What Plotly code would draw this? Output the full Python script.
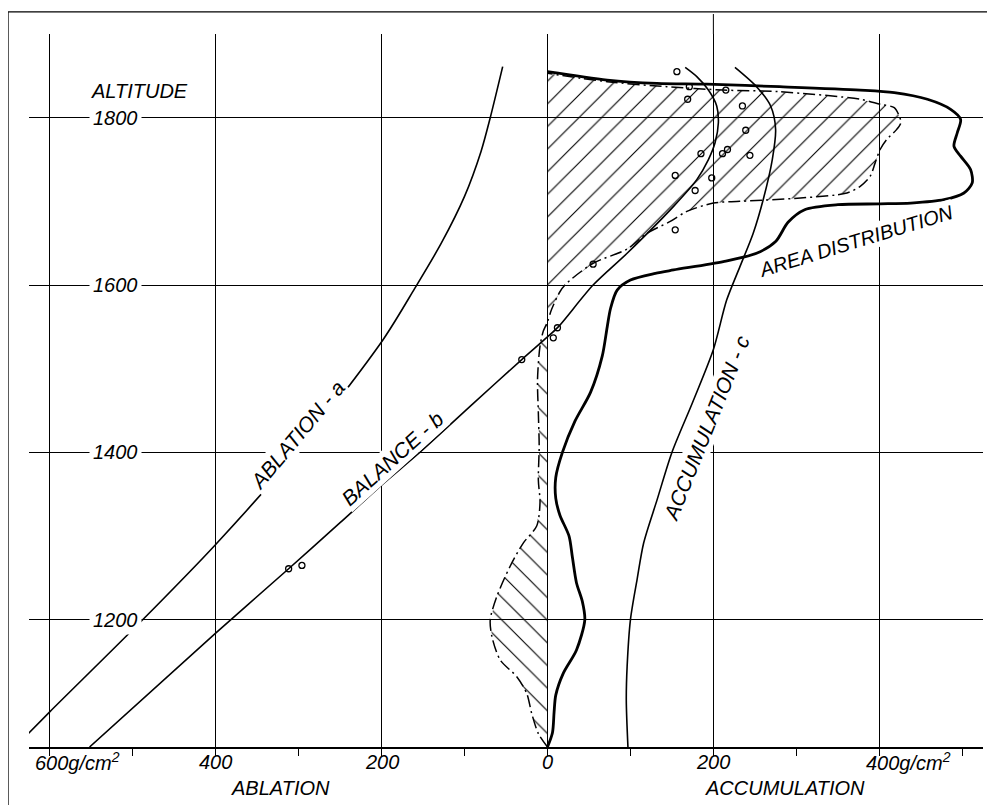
import plotly.graph_objects as go

# ---------------- data ----------------
# Curve a : ablation (g/cm^2, negative = ablation side) vs altitude
abl_x = [-630, -600, -488, -400, -302, -198, -160, -128, -100, -80, -69, -54]
abl_y = [1060, 1090, 1200, 1290, 1400, 1535, 1596, 1650, 1706, 1760, 1800, 1861]

# Curve b : balance
bal_x = [-552, -400, -312, -250, -200, -154, -90, -31, 0, 13, 55, 96, 152, 180, 194, 202, 206, 204, 194, 180, 166]
bal_y = [1048, 1184, 1261, 1316, 1361, 1400, 1458, 1511, 1538, 1550, 1600, 1638, 1694, 1726, 1750, 1770, 1794, 1814, 1833, 1849, 1860]

# Curve c : accumulation
acc_x = [97, 95, 96, 100, 108, 116, 132, 150, 175, 200, 216, 232, 248, 260, 271, 275, 269, 252, 226]
acc_y = [1048, 1104, 1144, 1200, 1248, 1292, 1343, 1400, 1460, 1523, 1582, 1622, 1662, 1702, 1750, 1786, 1814, 1837, 1860]

# Area distribution (thick curve)
area_x = [0, 6, 8, 10, 19, 35, 45, 42, 35, 30, 26, 15, 10, 10, 18, 33, 52, 66, 72, 76, 84, 100, 130, 152, 212,
          252, 275, 290, 310, 350, 401, 438, 478, 502, 512, 510, 498, 490, 494, 498, 486, 458, 418, 377, 280,
          192, 132, 72, 0]
area_y = [1048, 1065, 1090, 1110, 1136, 1164, 1200, 1222, 1244, 1275, 1300, 1325, 1345, 1370, 1400, 1437, 1472,
          1515, 1550, 1572, 1594, 1606, 1614, 1618, 1628, 1638, 1652, 1675, 1690, 1696, 1697, 1698, 1702, 1710,
          1722, 1738, 1754, 1766, 1782, 1798, 1810, 1822, 1830, 1833, 1837, 1840, 1841, 1845, 1855]

# Balance x area (dash-dot) : negative part and positive part
net_neg_x = [0, -11, -19, -25, -37, -57, -67, -69, -61, -45, -29, -13, -9, -11, -10, -11, -12, -9, -5, 0]
net_neg_y = [1048, 1064, 1088, 1112, 1132, 1152, 1180, 1200, 1228, 1264, 1292, 1312, 1340, 1367, 1407, 1447,
             1487, 1527, 1545, 1556]
net_pos_x = [0, 5, 15, 23, 55, 96, 120, 148, 168, 200, 232, 305, 361, 377, 389, 395, 401, 409, 421, 426, 424,
             418, 401, 377, 280, 212, 144, 72, 0]
net_pos_y = [1556, 1571, 1592, 1602, 1626, 1643, 1662, 1676, 1688, 1698, 1700, 1704, 1710, 1718, 1730, 1746,
             1762, 1774, 1786, 1794, 1802, 1812, 1816, 1822, 1831, 1833, 1837, 1843, 1853]

# Measured stake points
pts_x = [156, 171, 169, 215, 235, 239, 185, 211, 217, 244, 154, 198, 178, 154, 55, 12, 7, -31, -312, -296]
pts_y = [1855, 1837, 1822, 1833, 1814, 1785, 1757, 1757, 1762, 1755, 1731, 1728, 1713, 1666, 1625, 1549,
         1537, 1511, 1261, 1265]

# Tick labels
y_tick_vals = [1200, 1400, 1600, 1800]
x_tick_vals = [-400, -200, 0, 200]
x_tick_text = ["400", "200", "0", "200"]

# ---------------- figure ----------------
FONT = "Liberation Sans"
fig = go.Figure()

# hatched fills
for xs, ys, shp in [(net_neg_x, net_neg_y, "\\"), (net_pos_x, net_pos_y, "/")]:
    fig.add_trace(go.Scatter(x=xs, y=ys, mode="none", fill="toself",
                             fillcolor="rgba(255,255,255,0)",
                             fillpattern=dict(shape=shp, fgcolor="black", fgopacity=1,
                                              bgcolor="rgba(255,255,255,0)",
                                              size=16, solidity=0.07),
                             hoverinfo="skip", showlegend=False))

# dash-dot curve
fig.add_trace(go.Scatter(x=net_neg_x + net_pos_x[1:], y=net_neg_y + net_pos_y[1:], mode="lines",
                         line=dict(color="black", width=1.5, dash="12px,4px,2px,4px", shape="spline",
                                   smoothing=0.8),
                         showlegend=False))

# main curves
for xs, ys, w in [(abl_x, abl_y, 1.6), (bal_x, bal_y, 1.6), (acc_x, acc_y, 1.6), (area_x, area_y, 2.8)]:
    fig.add_trace(go.Scatter(x=xs, y=ys, mode="lines",
                             line=dict(color="black", width=w, shape="spline", smoothing=0.8),
                             showlegend=False))

# measured points
fig.add_trace(go.Scatter(x=pts_x, y=pts_y, mode="markers",
                         marker=dict(symbol="circle-open", size=6, color="black", line=dict(width=1.3)),
                         showlegend=False))

ann = []
tfont = dict(family=FONT, size=20, color="black", style="italic")
for v in y_tick_vals:
    ann.append(dict(x=-553, y=v, xref="x", yref="y", text=str(v), showarrow=False, xanchor="left",
                    yanchor="middle", font=tfont, bgcolor="white", borderpad=3))
ann.append(dict(x=-553, y=1832, xref="x", yref="y", text="ALTITUDE", showarrow=False, xanchor="left",
                yanchor="middle", font=tfont))
bfont = dict(family=FONT, size=20, color="black", style="italic")
for v, t in zip(x_tick_vals, x_tick_text):
    ann.append(dict(x=v, y=-0.021, xref="x", yref="paper", text=t, showarrow=False, xanchor="center",
                    yanchor="middle", font=bfont))
ann.append(dict(x=-620, y=-0.021, xref="x", yref="paper", text="600g/cm<sup>2</sup>", showarrow=False,
                xanchor="left", yanchor="middle", font=bfont))
ann.append(dict(x=381, y=-0.021, xref="x", yref="paper", text="400g/cm<sup>2</sup>", showarrow=False,
                xanchor="left", yanchor="middle", font=bfont))
ann.append(dict(x=-322, y=-0.058, xref="x", yref="paper", text="ABLATION", showarrow=False,
                xanchor="center", yanchor="middle", font=bfont))
ann.append(dict(x=286, y=-0.058, xref="x", yref="paper", text="ACCUMULATION", showarrow=False,
                xanchor="center", yanchor="middle", font=bfont))

for t, x, y, a, s in [("ABLATION - a", -301, 1421, -50, 21), ("BALANCE - b", -187, 1393, -42, 21),
                      ("ACCUMULATION - c", 191, 1429, -68, 21), ("AREA DISTRIBUTION", 372, 1653, -17, 20)]:
    ann.append(dict(x=x, y=y, xref="x", yref="y", text=t, showarrow=False, textangle=a,
                    xanchor="center", yanchor="middle",
                    font=dict(family=FONT, size=s, color="black", style="italic"),
                    bgcolor="white", borderpad=1))

shapes = [
    dict(type="line", xref="paper", yref="paper", x0=-21 / 954, x1=-21 / 954, y0=-0.09, y1=1.0309,
         line=dict(color="black", width=1.3)),
    dict(type="line", xref="paper", yref="paper", x0=-21 / 954, x1=1.02, y0=1.0309, y1=1.0309,
         line=dict(color="black", width=1.3)),
    dict(type="line", xref="x", yref="paper", x0=200, x1=200, y0=1.0, y1=1.028,
         line=dict(color="black", width=1)),
]

fig.update_layout(
    width=987, height=797,
    margin=dict(l=21, r=12, t=26, b=58),
    paper_bgcolor="white", plot_bgcolor="white",
    annotations=ann, shapes=shapes,
    xaxis=dict(range=[-625, 525], tick0=0, dtick=200, showgrid=True, gridcolor="black", gridwidth=1,
               zeroline=False, showline=True, linecolor="black", linewidth=1.6, ticks="outside",
               ticklen=7, tickcolor="black", showticklabels=False,
               minor=dict(dtick=100, ticks="outside", ticklen=7, tickcolor="black", showgrid=False)),
    yaxis=dict(range=[1048, 1900], tick0=0, dtick=200, showgrid=True, gridcolor="black", gridwidth=1,
               zeroline=False, showline=False, ticks="", showticklabels=False),
)

fig.write_html("out.html")
